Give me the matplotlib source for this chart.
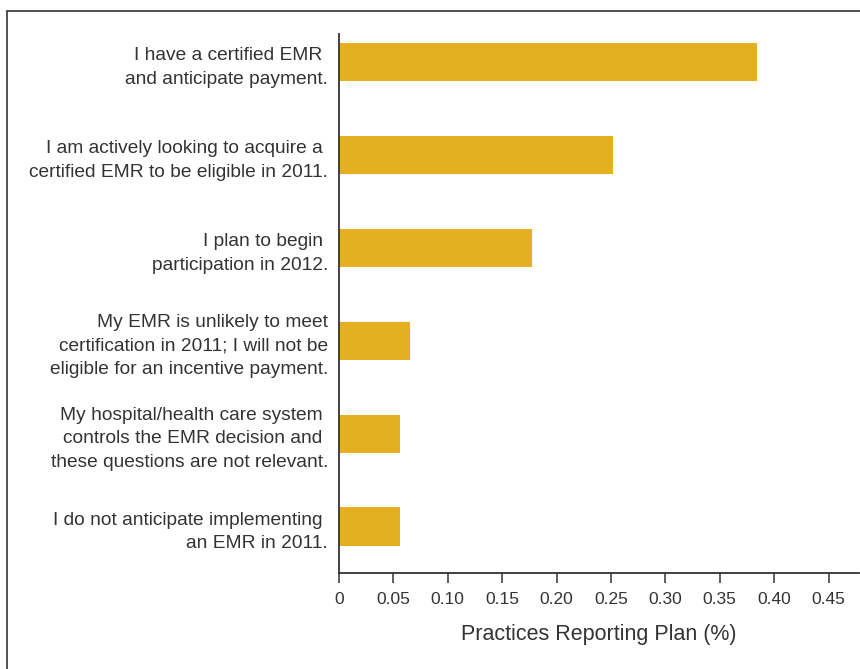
import matplotlib
matplotlib.use("Agg")
import matplotlib.pyplot as plt
from matplotlib.patches import Rectangle

# === DATA ===
answers = [
    "I have a certified EMR \nand anticipate payment.",
    "I am actively looking to acquire a \ncertified EMR to be eligible in 2011.",
    "I plan to begin \nparticipation in 2012.",
    "My EMR is unlikely to meet\ncertification in 2011; I will not be\neligible for an incentive payment.",
    "My hospital/health care system \ncontrols the EMR decision and \nthese questions are not relevant.",
    "I do not anticipate implementing \nan EMR in 2011.",
]
share = [0.384, 0.252, 0.177, 0.065, 0.056, 0.056]
tick_vals = [0, 0.05, 0.10, 0.15, 0.20, 0.25, 0.30, 0.35, 0.40, 0.45]
tick_text = ["0", "0.05", "0.10", "0.15", "0.20", "0.25", "0.30", "0.35", "0.40", "0.45"]

BAR_COLOR = "#E4B021"
INK = "#333333"
NARROW = ["Liberation Sans Narrow", "Liberation Sans", "DejaVu Sans"]

fig = plt.figure(figsize=(8.6, 6.69), dpi=100)
ax = fig.add_axes([339 / 860, 1 - 573 / 669, 520 / 860, (573 - 34) / 669])

ypos = list(range(len(answers)))
ax.barh(ypos, share, height=0.41, color=BAR_COLOR)

ax.set_ylim(5.5, -0.3)
ax.set_xlim(0, 0.478)

ax.set_yticks(ypos)
ax.set_yticklabels(answers, fontsize=13.8, family=["Liberation Sans", "DejaVu Sans"],
                   color=INK, linespacing=1.52)
ax.tick_params(axis="y", length=0, pad=8)

ax.set_xticks(tick_vals)
ax.set_xticklabels(tick_text, fontsize=12.5, family=NARROW, color=INK)
ax.tick_params(axis="x", length=7, width=1.1, color=INK, pad=7)
ax.set_xlabel("Practices Reporting Plan (%)", fontsize=15.5, family=NARROW,
              color=INK, labelpad=12)

for side in ["top", "right"]:
    ax.spines[side].set_visible(False)
for side in ["left", "bottom"]:
    ax.spines[side].set_color(INK)
    ax.spines[side].set_linewidth(1.3)

# outer frame, open at right and bottom edges
fig.add_artist(Rectangle((7 / 860, -0.1), 1.2, 1.1 - 11 / 669, fill=False,
                         edgecolor=INK, linewidth=1.2, transform=fig.transFigure))

fig.savefig("out.png", dpi=100)
